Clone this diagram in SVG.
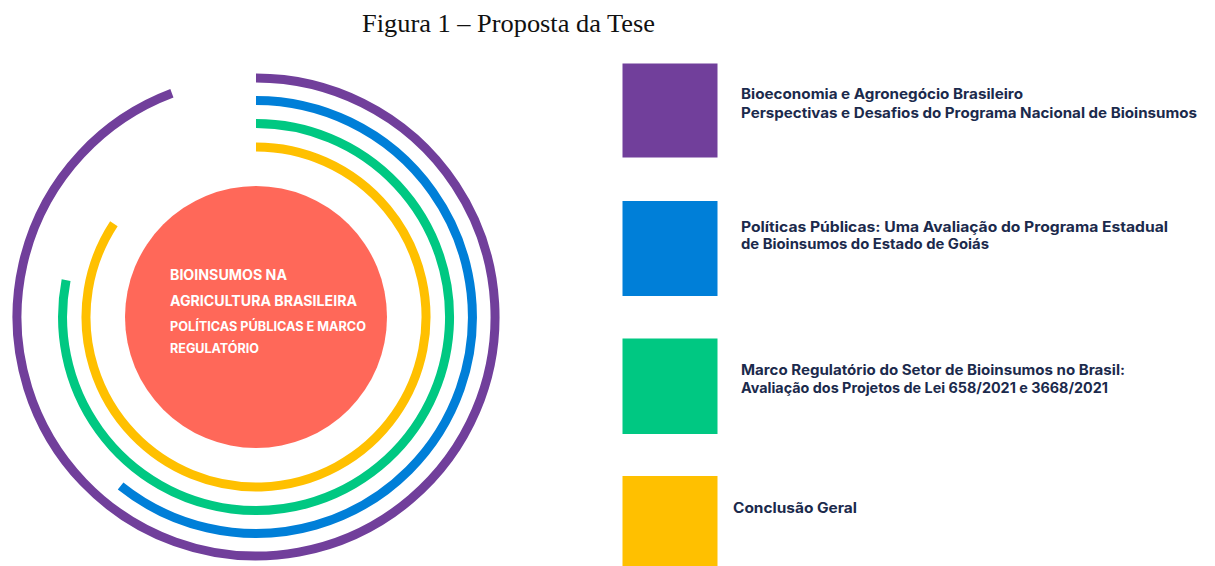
<svg xmlns="http://www.w3.org/2000/svg" width="1215" height="566" viewBox="0 0 1215 566">
<style>
.arc{fill:none;stroke-width:9;stroke-linecap:butt}
.ct{font-family:Inter,"Noto Sans","Liberation Sans",sans-serif;font-weight:700;fill:#ffffff}
.lt{font-family:Inter,"Noto Sans","Liberation Sans",sans-serif;font-weight:700;font-size:14px;fill:#1B2A4C}
</style>
<rect width="1215" height="566" fill="#ffffff"/>
<text x="362" y="32" font-family="Liberation Serif,serif" font-size="26" fill="#111" textLength="293" lengthAdjust="spacingAndGlyphs">Figura 1 – Proposta da Tese</text>
<g id="arcs">
<path class="arc" stroke="#713F9B" d="M256 78 A239 239 0 1 1 171.9 93.3"/>
<path class="arc" stroke="#007FD8" d="M256 100.5 A216.5 216.5 0 1 1 120.6 486"/>
<path class="arc" stroke="#00C882" d="M256 123.5 A193.5 193.5 0 1 1 66.1 280.1"/>
<path class="arc" stroke="#FFC000" d="M256 147 A170 170 0 1 1 113.9 223.7"/>
</g>
<g id="center">
<circle cx="256" cy="317" r="131" fill="#FF6859"/>
<text class="ct" x="170" y="280" font-size="14" textLength="117" lengthAdjust="spacingAndGlyphs">BIOINSUMOS NA</text>
<text class="ct" x="170" y="306" font-size="14" textLength="187" lengthAdjust="spacingAndGlyphs">AGRICULTURA BRASILEIRA</text>
<text class="ct" x="170" y="330.5" font-size="13" textLength="196" lengthAdjust="spacingAndGlyphs">POLÍTICAS PÚBLICAS E MARCO</text>
<text class="ct" x="170" y="353" font-size="13" textLength="89" lengthAdjust="spacingAndGlyphs">REGULATÓRIO</text>
</g>
<g id="item1">
<rect x="622.5" y="63.5" width="95" height="94" fill="#713F9B"/>
<text class="lt" x="741" y="99" textLength="282" lengthAdjust="spacingAndGlyphs">Bioeconomia e Agronegócio Brasileiro</text>
<text class="lt" x="741" y="117.5" textLength="456" lengthAdjust="spacingAndGlyphs">Perspectivas e Desafios do Programa Nacional de Bioinsumos</text>
</g>
<g id="item2">
<rect x="622.5" y="201" width="95" height="95" fill="#007FD8"/>
<text class="lt" x="741" y="231.5" textLength="427" lengthAdjust="spacingAndGlyphs">Políticas Públicas: Uma Avaliação do Programa Estadual</text>
<text class="lt" x="741" y="249" textLength="248" lengthAdjust="spacingAndGlyphs">de Bioinsumos do Estado de Goiás</text>
</g>
<g id="item3">
<rect x="622.5" y="338.5" width="95" height="95.5" fill="#00C882"/>
<text class="lt" x="741" y="375" textLength="384" lengthAdjust="spacingAndGlyphs">Marco Regulatório do Setor de Bioinsumos no Brasil:</text>
<text class="lt" x="741" y="393" textLength="367" lengthAdjust="spacingAndGlyphs">Avaliação dos Projetos de Lei 658/2021 e 3668/2021</text>
</g>
<g id="item4">
<rect x="622.5" y="476" width="95" height="95" fill="#FFC000"/>
<text class="lt" x="733" y="513" textLength="124" lengthAdjust="spacingAndGlyphs">Conclusão Geral</text>
</g>
</svg>
